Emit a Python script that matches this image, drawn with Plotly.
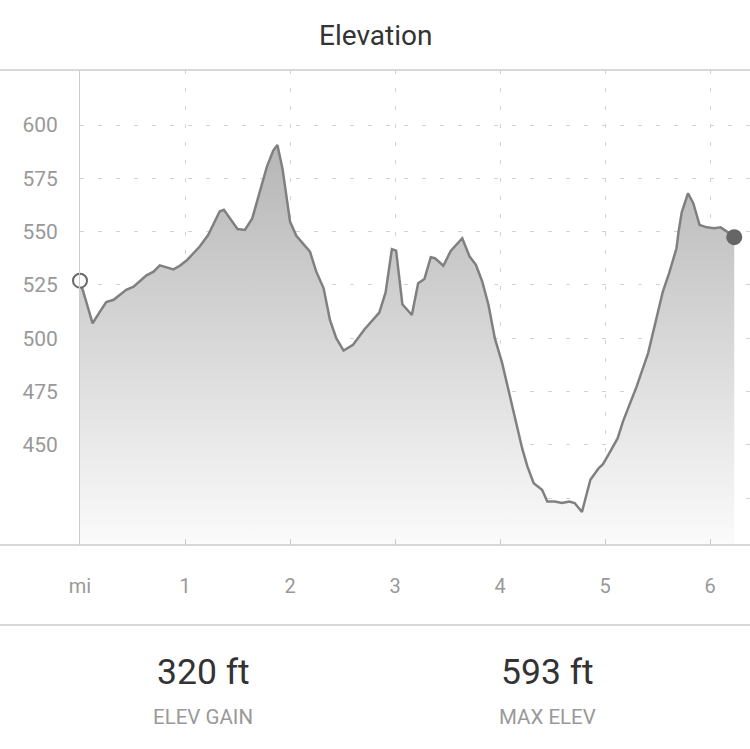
import plotly.graph_objects as go

# Elevation profile (miles, feet)
dist = [
    0.00, 0.12, 0.19, 0.25, 0.32, 0.44, 0.51, 0.63, 0.70, 0.76,
    0.89, 0.95, 1.02, 1.14, 1.22, 1.33, 1.37, 1.50, 1.57, 1.64,
    1.78, 1.84, 1.88, 1.93, 2.00, 2.06, 2.19, 2.25, 2.32, 2.38,
    2.44, 2.51, 2.60, 2.71, 2.85, 2.91, 2.97, 3.01, 3.07, 3.16,
    3.22, 3.28, 3.34, 3.38, 3.46, 3.53, 3.64, 3.71, 3.77, 3.83,
    3.89, 3.95, 4.02, 4.08, 4.14, 4.21, 4.26, 4.32, 4.40, 4.45,
    4.52, 4.59, 4.66, 4.71, 4.78, 4.86, 4.94, 4.98, 5.05, 5.12,
    5.17, 5.22, 5.30, 5.41, 5.48, 5.55, 5.61, 5.68, 5.70, 5.73,
    5.79, 5.84, 5.90, 5.97, 6.04, 6.10, 6.16, 6.23,
]
elev = [
    527, 507, 512.5, 517, 518, 522.7, 524.2, 529.4, 531.2, 534.2,
    532.3, 534, 536.7, 543, 548.4, 559.4, 560.2, 551.2, 550.8, 556.2,
    580.5, 588, 590.6, 579, 554.7, 548, 540.6, 531.2, 523.4, 508.6,
    500, 494.2, 496.9, 504.2, 512, 521.5, 541.8, 541.1, 515.9, 510.9,
    525.8, 527.8, 538, 537.5, 534, 540.9, 546.9, 538.3, 534.4, 526.6,
    515.6, 500, 488.3, 475.8, 463.3, 448.4, 439.9, 432, 428.9, 423.4,
    423.4, 422.7, 423.4, 422.7, 418.5, 433.6, 439.1, 440.9, 446.9, 453.1,
    460.9, 467.2, 477.3, 493, 507, 521.9, 530.5, 542.2, 550, 559,
    568, 563.3, 553.1, 552, 551.6, 552, 550, 547.4,
]

y_ticks = [425, 450, 475, 500, 525, 550, 575, 600]
y_labels = ["", "450", "475", "500", "525", "550", "575", "600"]
x_ticks = [0, 1, 2, 3, 4, 5, 6]
x_labels = ["mi", "1", "2", "3", "4", "5", "6"]

stat_values = ["320 ft", "593 ft"]
stat_names = ["ELEV GAIN", "MAX ELEV"]

FONT = "Roboto"
LINE_GRAY = "#cccccc"

fig = go.Figure()

# filled elevation area with a vertical gradient
fig.add_trace(go.Scatter(
    x=dist, y=elev,
    mode="lines",
    line=dict(color="#808080", width=2.5),
    fill="tozeroy",
    fillgradient=dict(
        type="vertical",
        colorscale=[[0, "#fbfbfb"], [1, "#b4b4b4"]],
        start=403, stop=595,
    ),
    hoverinfo="skip",
))

# start point (open) and end point (filled)
fig.add_trace(go.Scatter(
    x=[dist[0]], y=[elev[0]], mode="markers",
    marker=dict(size=14, color="white", line=dict(color="#6a6a6a", width=2)),
    cliponaxis=False,
))
fig.add_trace(go.Scatter(
    x=[dist[-1]], y=[elev[-1]], mode="markers",
    marker=dict(size=16, color="#666666"),
    cliponaxis=False,
))

fig.update_layout(
    width=750, height=749,
    margin=dict(l=80, r=0, t=70, b=204),
    plot_bgcolor="white",
    paper_bgcolor="white",
    showlegend=False,
    font=dict(family=FONT, color="#999999"),
    xaxis=dict(
        range=[0, 6.38],
        tickvals=x_ticks, ticktext=x_labels,
        tickfont=dict(size=20, color="#999999"),
        ticks="inside", ticklen=6, tickcolor=LINE_GRAY,
        ticklabelstandoff=27,
        showgrid=True, gridcolor="#d2d2d2", griddash="4px,14px", gridwidth=1,
        zeroline=False, showline=False,
    ),
    yaxis=dict(
        range=[403, 625.8],
        tickvals=y_ticks, ticktext=y_labels,
        tickfont=dict(size=21, color="#999999"),
        ticks="", ticklabelstandoff=17,
        showgrid=True, gridcolor="#d2d2d2", griddash="4px,14px", gridwidth=1,
        zeroline=False, showline=True, linecolor=LINE_GRAY, linewidth=1,
    ),
)

# full width separator lines
for yy in [1, 0, -80 / 475]:
    fig.add_shape(type="line", xref="paper", yref="paper",
                  x0=-80 / 670, x1=1, y0=yy, y1=yy,
                  line=dict(color=LINE_GRAY, width=1.5))

fig.add_annotation(text="Elevation", xref="paper", yref="paper",
                   x=(375 - 80) / 670, y=1 + 35 / 475, showarrow=False,
                   xanchor="center", yanchor="middle",
                   font=dict(size=28, color="#333333", family=FONT))

for i, (val, name) in enumerate(zip(stat_values, stat_names)):
    cx = [203, 547][i]
    fig.add_annotation(text=val, xref="paper", yref="paper",
                       x=(cx - 80) / 670, y=(545 - 672) / 475, showarrow=False,
                       xanchor="center", yanchor="middle",
                       font=dict(size=35.5, color="#333333", family=FONT))
    fig.add_annotation(text=name, xref="paper", yref="paper",
                       x=(cx - 80) / 670, y=(545 - 717) / 475, showarrow=False,
                       xanchor="center", yanchor="middle",
                       font=dict(size=20.5, color="#999999", family=FONT))

# drop the default page margin so the figure sits at the window's corner
fig.write_html("out.html", config={"displayModeBar": False},
               post_script="document.body.style.margin='0';")
